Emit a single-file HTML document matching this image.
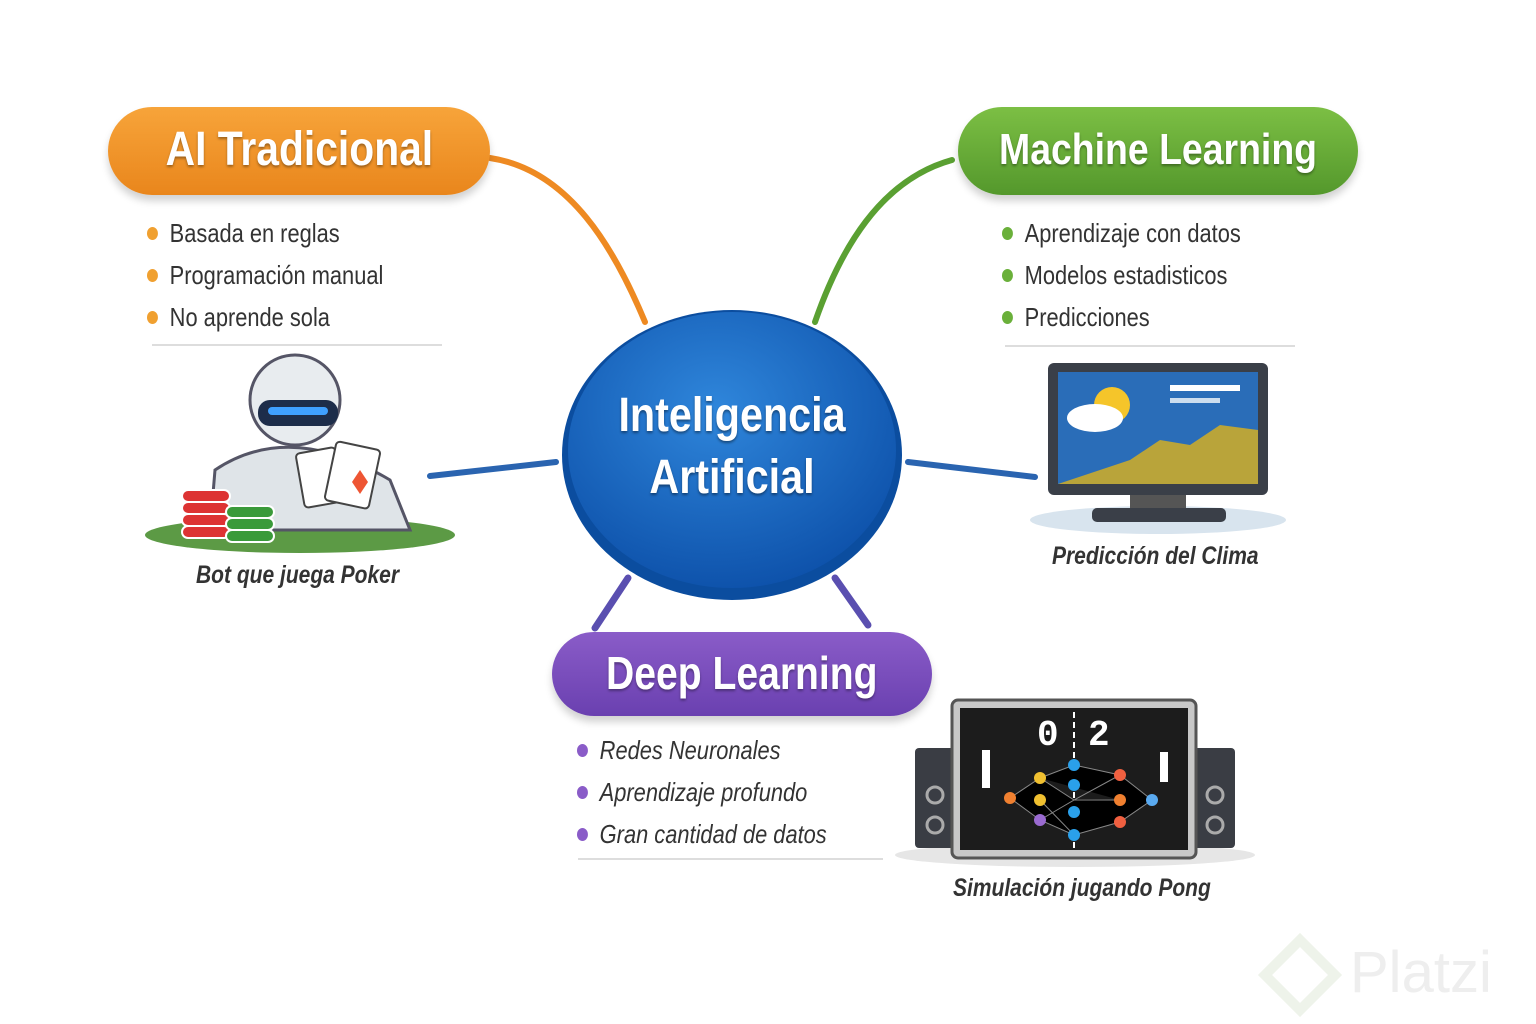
<!DOCTYPE html>
<html><head><meta charset="utf-8"><style>
html,body{margin:0;padding:0;background:#fff;}
body{width:1536px;height:1024px;position:relative;overflow:hidden;font-family:"Liberation Sans",sans-serif;}
.pill{position:absolute;border-radius:50px;color:#fff;font-weight:bold;text-align:center;box-shadow:0 6px 8px rgba(0,0,0,0.18);text-shadow:0 2px 3px rgba(0,0,0,0.35);}
.pill span{display:inline-block;transform:scaleX(0.85);white-space:nowrap;}
.li{position:absolute;font-size:26px;color:#333;white-space:nowrap;transform:scaleX(0.84);transform-origin:0 0;}
.dot{display:inline-block;width:13px;height:13px;border-radius:50%;margin-right:14px;vertical-align:middle;position:relative;top:-2px;}
.cap{position:absolute;font-size:25px;font-style:italic;font-weight:bold;color:#333;white-space:nowrap;transform:scaleX(0.84);transform-origin:0 0;}
.hr{position:absolute;height:2px;background:#ddd;}
</style></head><body>
<svg width="1536" height="1024" style="position:absolute;left:0;top:0">
<path d="M490,158 C570,170 615,250 645,322" stroke="#ee8a22" stroke-width="6" fill="none" stroke-linecap="round"/>
<path d="M952,160 C880,180 840,250 815,322" stroke="#5aa032" stroke-width="6" fill="none" stroke-linecap="round"/>
<path d="M430,476 L556,462" stroke="#2a64b0" stroke-width="6" stroke-linecap="round"/>
<path d="M908,462 L1035,477" stroke="#2a64b0" stroke-width="6" stroke-linecap="round"/>
<path d="M595,628 L628,578" stroke="#5a4fb0" stroke-width="7" stroke-linecap="round"/>
<path d="M868,625 L835,578" stroke="#5a4fb0" stroke-width="7" stroke-linecap="round"/>
<defs><radialGradient id="g" cx="0.45" cy="0.35" r="0.7"><stop offset="0" stop-color="#2f86db"/><stop offset="1" stop-color="#0c4fa8"/></radialGradient></defs>
<ellipse cx="732" cy="455" rx="170" ry="145" fill="#0b4d9f"/>
<ellipse cx="732" cy="450" rx="164" ry="138" fill="url(#g)"/>
<ellipse cx="300" cy="535" rx="155" ry="18" fill="#5c9a45"/>
<circle cx="295" cy="400" r="45" fill="#e8ecef" stroke="#556" stroke-width="3"/>
<rect x="258" y="400" width="80" height="26" rx="12" fill="#1d2d4a"/>
<rect x="268" y="407" width="60" height="8" rx="4" fill="#3fa0ff"/>
<path d="M215,470 Q290,420 390,480 L410,530 L210,530 Z" fill="#dfe4e8" stroke="#556" stroke-width="3"/>
<rect x="300" y="450" width="40" height="55" rx="4" fill="#fff" stroke="#444" stroke-width="2" transform="rotate(-10 320 478)"/>
<rect x="330" y="445" width="45" height="60" rx="4" fill="#fff" stroke="#444" stroke-width="2" transform="rotate(12 352 475)"/>
<path d="M360,470 l8,12 l-8,12 l-8,-12z" fill="#e53"/>
<g fill="#d33" stroke="#fff" stroke-width="2"><rect x="182" y="490" width="48" height="12" rx="6"/><rect x="182" y="502" width="48" height="12" rx="6"/><rect x="182" y="514" width="48" height="12" rx="6"/><rect x="182" y="526" width="48" height="12" rx="6"/></g>
<g fill="#3a9a3a" stroke="#fff" stroke-width="2"><rect x="226" y="506" width="48" height="12" rx="6"/><rect x="226" y="518" width="48" height="12" rx="6"/><rect x="226" y="530" width="48" height="12" rx="6"/></g>
<ellipse cx="1158" cy="520" rx="128" ry="14" fill="#d8e4ee"/>
<rect x="1048" y="363" width="220" height="132" rx="6" fill="#3a3f48"/>
<rect x="1058" y="372" width="200" height="112" fill="#2a6db8"/>
<path d="M1058,484 L1100,470 L1130,460 L1160,440 L1190,445 L1220,425 L1258,430 L1258,484Z" fill="#b9a43a"/>
<circle cx="1112" cy="405" r="18" fill="#f5c52a"/>
<ellipse cx="1095" cy="418" rx="28" ry="14" fill="#fff"/>
<rect x="1170" y="385" width="70" height="6" fill="#fff"/><rect x="1170" y="398" width="50" height="5" fill="#cde"/>
<rect x="1130" y="495" width="56" height="15" fill="#555"/><rect x="1092" y="508" width="134" height="14" rx="5" fill="#3a3f48"/>
<ellipse cx="1075" cy="855" rx="180" ry="12" fill="#e6e6e6"/>
<rect x="915" y="748" width="45" height="100" rx="4" fill="#3a3d44"/>
<rect x="1190" y="748" width="45" height="100" rx="4" fill="#3a3d44"/>
<rect x="952" y="700" width="244" height="158" rx="6" fill="#c8c8c8" stroke="#555" stroke-width="3"/>
<rect x="960" y="708" width="228" height="142" fill="#1c1c1c"/>
<rect x="982" y="750" width="8" height="38" fill="#fff"/><rect x="1160" y="752" width="8" height="30" fill="#fff"/>
<text x="1037" y="745" font-family="Liberation Mono" font-size="36" font-weight="bold" fill="#fff">0</text>
<text x="1088" y="745" font-family="Liberation Mono" font-size="36" font-weight="bold" fill="#fff">2</text>
<line x1="1074" y1="712" x2="1074" y2="848" stroke="#fff" stroke-width="2" stroke-dasharray="6 4"/>
<g stroke="#888" stroke-width="1"><path d="M1010,798 L1040,778 L1074,765 L1120,775 L1152,800 M1010,798 L1040,820 L1074,835 L1120,822 L1152,800 M1040,778 L1074,800 L1120,800 M1040,820 L1074,800 L1120,775 M1040,800 L1074,835 L1120,822"/></g>
<g><circle cx="1010" cy="798" r="6" fill="#f08030"/><circle cx="1040" cy="778" r="6" fill="#f0c030"/><circle cx="1040" cy="800" r="6" fill="#f0c030"/><circle cx="1040" cy="820" r="6" fill="#9a6ad0"/><circle cx="1074" cy="765" r="6" fill="#2aa0ea"/><circle cx="1074" cy="785" r="6" fill="#2aa0ea"/><circle cx="1074" cy="812" r="6" fill="#2aa0ea"/><circle cx="1074" cy="835" r="6" fill="#2aa0ea"/><circle cx="1120" cy="775" r="6" fill="#f06040"/><circle cx="1120" cy="800" r="6" fill="#f08030"/><circle cx="1120" cy="822" r="6" fill="#f06040"/><circle cx="1152" cy="800" r="6" fill="#5aaaf0"/></g>
<circle cx="935" cy="795" r="8" fill="none" stroke="#aaa" stroke-width="3"/><circle cx="935" cy="825" r="8" fill="none" stroke="#aaa" stroke-width="3"/>
<circle cx="1215" cy="795" r="8" fill="none" stroke="#aaa" stroke-width="3"/><circle cx="1215" cy="825" r="8" fill="none" stroke="#aaa" stroke-width="3"/>
<text x="1350" y="992" font-family="Liberation Sans" font-size="58" fill="#eeeeee">Platzi</text>
<path d="M1300,940 L1335,975 L1300,1010 L1265,975Z" fill="none" stroke="#eef3ea" stroke-width="10"/>
</svg>
<div class="pill" style="left:108px;top:107px;width:382px;height:88px;line-height:86px;font-size:48px;background:linear-gradient(#f7a43a,#e9861c);"><span>AI Tradicional</span></div>
<div class="pill" style="left:958px;top:107px;width:400px;height:88px;line-height:86px;font-size:44px;background:linear-gradient(#7cbf44,#54982c);"><span>Machine Learning</span></div>
<div class="pill" style="left:552px;top:632px;width:380px;height:84px;line-height:82px;font-size:46px;background:linear-gradient(#8a5cc8,#6a40b0);"><span>Deep Learning</span></div>
<div style="position:absolute;left:562px;top:385px;width:340px;text-align:center;color:#fff;font-weight:bold;font-size:48px;line-height:62px;text-shadow:0 2px 3px rgba(0,0,0,0.4);transform:scaleX(0.86);">Inteligencia<br>Artificial</div>
<div class="li" style="left:147px;top:218px"><span class="dot" style="background:#f0a030"></span>Basada en reglas</div>
<div class="li" style="left:147px;top:260px"><span class="dot" style="background:#f0a030"></span>Programación manual</div>
<div class="li" style="left:147px;top:302px"><span class="dot" style="background:#f0a030"></span>No aprende sola</div>
<div class="hr" style="left:152px;top:344px;width:290px"></div>
<div class="li" style="left:1002px;top:218px"><span class="dot" style="background:#6ab03a"></span>Aprendizaje con datos</div>
<div class="li" style="left:1002px;top:260px"><span class="dot" style="background:#6ab03a"></span>Modelos estadisticos</div>
<div class="li" style="left:1002px;top:302px"><span class="dot" style="background:#6ab03a"></span>Predicciones</div>
<div class="hr" style="left:1005px;top:345px;width:290px"></div>
<div class="li" style="left:577px;top:735px;font-style:italic"><span class="dot" style="background:#8a5cc8"></span>Redes Neuronales</div>
<div class="li" style="left:577px;top:777px;font-style:italic"><span class="dot" style="background:#8a5cc8"></span>Aprendizaje profundo</div>
<div class="li" style="left:577px;top:819px;font-style:italic"><span class="dot" style="background:#8a5cc8"></span>Gran cantidad de datos</div>
<div class="hr" style="left:578px;top:858px;width:305px"></div>
<div class="cap" style="left:196px;top:561px">Bot que juega Poker</div>
<div class="cap" style="left:1052px;top:542px">Predicción del Clima</div>
<div class="cap" style="left:953px;top:874px">Simulación jugando Pong</div>
</body></html>
